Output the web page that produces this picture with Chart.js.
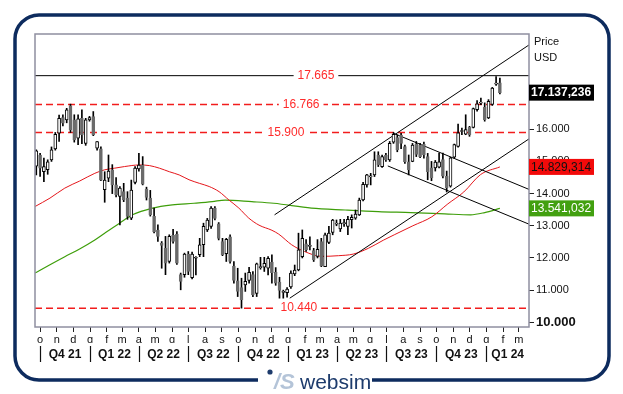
<!DOCTYPE html>
<html>
<head>
<meta charset="utf-8">
<title>Price USD</title>
<script src="https://cdn.jsdelivr.net/npm/chart.js@4.4.1/dist/chart.umd.min.js"></script>
<style>
  body { margin: 0; background: #fff; }
  #wrap { width: 623px; height: 394px; }
</style>
</head>
<body>
<div id="wrap"><canvas id="myChart" width="623" height="394"></canvas></div>
<script>
// weekly candles, first one is the week of 24 Sep 2021
var opens = [14.85,15.20,14.68,14.74,15.05,15.39,15.88,16.36,16.29,16.73,16.29,15.72,16.34,15.56,16.29,16.39,15.41,15.39,14.12,14.48,
  14.74,14.27,13.91,14.06,13.86,13.24,14.35,14.77,14.89,14.14,13.86,13.29,12.87,12.46,12.30,11.89,12.70,12.74,11.48,11.48,
  12.12,11.39,11.99,12.10,12.41,12.87,12.98,13.55,13.06,12.51,12.13,12.66,11.75,11.29,11.08,11.16,11.30,11.48,10.90,11.70,
  11.71,11.68,11.87,11.55,11.25,10.93,10.92,11.10,11.50,11.63,12.04,12.44,12.36,12.23,12.05,12.51,11.73,12.48,12.79,13.05,
  12.90,13.06,12.98,13.19,13.24,13.34,13.80,14.27,14.52,14.58,15.20,14.84,15.20,15.05,15.60,15.74,15.82,15.46,14.99,15.00,
  15.53,15.51,15.53,15.15,14.80,14.80,14.82,15.06,14.54,14.23,15.13,15.47,15.93,15.85,16.06,16.06,16.61,16.81,16.68,16.35,
  16.77,17.40,17.44];
var highs = [15.36,15.25,15.10,15.05,15.45,15.90,16.44,16.45,16.65,16.78,16.45,16.45,16.60,16.34,16.40,16.55,15.62,15.45,14.68,15.20,
  14.90,14.50,14.22,14.32,14.06,14.42,14.84,15.25,15.15,14.20,14.10,13.55,13.03,12.51,12.67,12.72,12.89,12.82,11.53,12.15,
  12.20,12.18,12.04,12.61,13.08,13.23,13.60,13.60,13.10,12.61,12.61,12.72,11.89,11.68,11.37,11.53,11.71,11.58,11.84,12.02,
  12.02,12.04,12.10,11.70,11.40,11.00,11.08,11.60,11.78,12.77,12.87,12.57,12.66,12.30,12.57,12.61,12.77,12.98,13.20,13.18,
  13.20,13.20,13.29,13.34,13.49,13.86,14.35,14.60,14.63,15.30,15.30,15.20,15.25,15.62,15.90,15.82,15.87,15.51,15.20,15.56,
  15.62,15.56,15.60,15.25,15.00,15.03,15.26,15.26,14.70,15.13,15.54,16.16,16.04,16.45,16.09,16.66,16.89,16.97,16.82,16.92,
  17.30,17.64,17.59];
var lows = [14.58,14.53,14.37,14.60,15.00,15.35,15.62,16.10,16.20,15.90,15.60,15.52,15.55,15.50,16.25,15.80,15.35,14.40,13.73,14.37,
  14.00,13.90,13.03,13.75,13.20,13.19,14.30,14.70,14.27,13.80,13.30,12.78,12.51,11.68,11.48,11.84,12.46,11.80,11.01,11.40,
  11.48,11.35,11.47,12.04,12.04,12.82,12.92,13.18,12.56,12.07,11.89,11.84,11.22,10.80,10.44,10.96,11.22,10.80,10.80,11.65,
  11.58,11.47,11.22,11.15,10.75,10.75,10.78,11.05,11.45,11.60,12.00,12.20,12.25,11.89,12.00,11.73,11.73,12.44,12.72,13.00,
  12.82,12.98,12.72,12.93,13.20,13.32,13.77,14.20,14.27,14.53,14.84,14.81,15.00,15.00,15.56,15.30,15.40,14.94,14.58,14.99,
  15.15,15.12,15.10,14.43,14.40,14.70,14.80,14.49,14.05,14.20,15.10,15.44,15.83,15.83,15.78,16.04,16.56,16.76,16.25,16.33,
  16.74,17.36,17.10];
var closes = [15.33,14.79,14.84,14.99,15.36,15.84,16.34,16.19,16.60,15.98,15.67,16.32,15.82,16.29,16.36,15.82,15.62,14.42,14.42,14.70,
  14.27,13.96,14.17,13.80,13.29,14.11,14.79,14.89,14.29,13.88,13.34,12.82,12.67,12.39,11.84,12.67,12.51,11.84,11.27,12.12,
  11.58,12.12,12.00,12.41,12.98,13.18,13.55,13.23,12.61,12.10,12.58,11.89,11.30,10.96,10.70,11.27,11.55,10.85,11.82,11.72,
  11.83,11.99,11.54,11.22,10.99,10.95,11.03,11.53,11.62,12.25,12.61,12.25,12.37,11.94,12.27,11.75,12.72,12.77,13.18,13.07,
  13.08,13.10,13.20,13.26,13.36,13.80,14.29,14.58,14.54,15.05,14.89,15.15,15.05,15.56,15.84,15.36,15.56,14.99,14.74,15.51,
  15.22,15.15,15.20,14.68,14.49,14.98,14.99,14.54,14.18,15.11,15.52,15.89,15.94,15.99,15.83,16.64,16.79,16.82,16.30,16.87,
  17.28,17.41,17.137236];

// moving averages (week index, value)
var redAvgWeeks = [-0.3,3.6,7.5,11.4,15.4,18,20.6,23.2,27.1,29.8,32.4,35,37.6,40.2,42.9,45.5,48.1,50.7,53.3,55.9,58.6,62,63.8,67.2,70.6,75.1,79.5,83.4,87.4,91.3,94.2,99.1,104.1,108.3,112.5,116.9,122];
var redAvg = [13.6,13.86,14.17,14.39,14.63,14.74,14.79,14.84,14.89,14.87,14.79,14.68,14.58,14.43,14.32,14.22,14.06,13.8,13.55,13.24,13.02,12.86,12.74,12.41,12.2,12.05,12.07,12.12,12.3,12.55,12.72,13.0,13.28,13.68,14.05,14.59,14.829314];
var greenAvgWeeks = [-0.3,3.6,7.5,11.4,15.4,18,21.9,25.3,30.6,35.8,41.5,46.3,49.7,56.7,62.5,72.4,81.3,90,98.6,107.5,114.3,118,122];
var greenAvg = [11.53,11.79,12.04,12.28,12.56,12.77,13.08,13.34,13.55,13.65,13.7,13.75,13.8,13.75,13.7,13.55,13.49,13.44,13.41,13.37,13.34,13.41,13.541032];

// trend lines: two end points each
var channelTopWeeks = [62.7, 129.66], channelTopPrices = [13.34, 18.62];
var channelLowWeeks = [66.7, 129.66], channelLowPrices = [10.75, 15.70];
var flagTopWeeks = [93.9, 129.66], flagTopPrices = [15.88, 14.13];
var flagLowWeeks = [92.5, 129.66], flagLowPrices = [14.86, 13.05];

var levels = [17.665, 16.766, 15.900, 10.440];
var yTicks = [10, 11, 12, 13, 14, 15, 16, 17];
var monthLetters = ['g','f','m','a','m','g','l','a','s','o','n','d'];
var quarterLabels = ['Q4 21','Q1 22','Q2 22','Q3 22','Q4 22','Q1 23','Q2 23','Q3 23','Q4 23','Q1 24'];

var xMin = -0.34, xMax = 129.66;
var T0 = Date.UTC(2021, 8, 24), WEEK = 7 * 86400000;
function wk(y, m) { return (Date.UTC(y, m, 1) - T0) / WEEK; }

var monthTicks = [], monthTickLabels = [];
for (var y = 2021, m = 9; y < 2024 || m <= 2; ) {
    monthTicks.push(wk(y, m));
    monthTickLabels.push(monthLetters[m]);
    m++; if (m > 11) { m = 0; y++; }
}
var quarterStarts = [];
for (var q = 0; q < quarterLabels.length; q++) {
    quarterStarts.push(wk(2021 + Math.floor((9 + q * 3) / 12), (9 + q * 3) % 12));
}
var quarterMids = quarterStarts.map(function(s, i) {
    var e = i + 1 < quarterStarts.length ? quarterStarts[i + 1] : xMax;
    return (s + e) / 2;
});

function fmtLast(v) {
    var s = v.toFixed(6);
    return s.slice(0, s.length - 3) + ',' + s.slice(s.length - 3);
}
var FONT = '"Liberation Sans", Arial, sans-serif';
Chart.defaults.font.family = FONT;

function seg(xs, ys) { return xs.map(function(x, i) { return {x: x, y: ys[i]}; }); }

var datasets = [];
// candles on top
datasets.push({
    type: 'bar', label: 'bodies', order: 1, grouped: false,
    data: opens.map(function(o, i) { return {x: i, y: [o, closes[i]]}; }),
    barThickness: 3, minBarLength: 1, borderWidth: 1, borderSkipped: false,
    backgroundColor: function(c) { return closes[c.dataIndex] >= opens[c.dataIndex] ? '#ffffff' : '#6b6b6b'; },
    borderColor: function(c) { return closes[c.dataIndex] >= opens[c.dataIndex] ? '#000000' : '#6b6b6b'; }
});
datasets.push({
    type: 'bar', label: 'wicks', order: 2, grouped: false,
    data: lows.map(function(l, i) { return {x: i, y: [l, highs[i]]}; }),
    barThickness: 1, backgroundColor: '#000'
});
[[channelTopWeeks, channelTopPrices], [channelLowWeeks, channelLowPrices],
 [flagTopWeeks, flagTopPrices], [flagLowWeeks, flagLowPrices]].forEach(function(t) {
    datasets.push({type: 'line', order: 3, data: seg(t[0], t[1]), borderColor: '#000', borderWidth: 1, pointRadius: 0, fill: false});
});
datasets.push({type: 'line', order: 4, data: seg(redAvgWeeks, redAvg), borderColor: '#e5171c', borderWidth: 1,
    pointRadius: 0, cubicInterpolationMode: 'monotone', fill: false});
datasets.push({type: 'line', order: 4, data: seg(greenAvgWeeks, greenAvg), borderColor: '#3e9e0a', borderWidth: 1.2,
    pointRadius: 0, cubicInterpolationMode: 'monotone', fill: false});
levels.forEach(function(lv, i) {
    datasets.push({type: 'line', order: 5, data: [{x: xMin, y: lv}, {x: xMax, y: lv}],
        borderColor: i === 0 ? '#000' : '#f21d1d', borderWidth: i === 0 ? 1 : 1.5,
        borderDash: i === 0 ? [] : [7, 4], pointRadius: 0, fill: false});
});

var decor = {
    id: 'decor',
    beforeDraw: function(chart) {
        var c = chart.ctx;
        c.save();
        c.fillStyle = '#fff';
        c.fillRect(0, 0, chart.width, chart.height);
        c.strokeStyle = '#0d2b5e';
        c.lineWidth = 3.5;
        c.beginPath();
        c.roundRect(15, 15, 594, 365, 24);
        c.stroke();
        // logo gap on the bottom edge
        c.fillStyle = '#fff';
        c.fillRect(258, 372, 114, 16);
        c.fillStyle = '#1d3b6c';
        c.beginPath(); c.arc(270, 372, 2.6, 0, Math.PI * 2); c.fill();
        c.font = 'italic bold 22px ' + FONT;
        c.fillStyle = '#b4c4d8';
        c.textBaseline = 'alphabetic';
        c.fillText('/S', 274, 389);
        c.font = '21px ' + FONT;
        c.fillStyle = '#1d3b6c';
        c.fillText('websim', 300, 389);
        c.restore();
    },
    afterDatasetsDraw: function(chart) {
        var c = chart.ctx, ys = chart.scales.y, xs = chart.scales.x;
        var at = [73.6, 69.7, 65.7, 69.1];
        c.save();
        c.font = '12px ' + FONT;
        c.textAlign = 'center';
        c.textBaseline = 'middle';
        levels.forEach(function(lv, i) {
            var py = ys.getPixelForValue(lv), px = xs.getPixelForValue(at[i]);
            var txt = lv.toFixed(3), w = c.measureText(txt).width;
            c.fillStyle = '#fff';
            c.fillRect(px - w / 2 - 4, py - 6, w + 8, 12);
            c.fillStyle = '#ff2b2b';
            c.fillText(txt, px, py);
        });
        c.restore();
    },
    afterDraw: function(chart) {
        var c = chart.ctx, a = chart.chartArea, ys = chart.scales.y, xs = chart.scales.x;
        c.save();
        c.strokeStyle = '#8f8fa0';
        c.lineWidth = 1.5;
        c.strokeRect(a.left, a.top, a.right - a.left, a.bottom - a.top);
        // quarter separators
        c.strokeStyle = '#111';
        c.lineWidth = 1.2;
        quarterStarts.forEach(function(s) {
            var px = Math.round(xs.getPixelForValue(s)) + 0.5;
            c.beginPath(); c.moveTo(px, 346); c.lineTo(px, 362); c.stroke();
        });
        c.fillStyle = '#111';
        c.font = '11px ' + FONT;
        c.textBaseline = 'middle';
        c.textAlign = 'left';
        c.fillText('Price', a.right + 5, 42);
        c.fillText('USD', a.right + 5, 58);
        // last values
        var boxes = [[closes[closes.length - 1], '#000', '#fff', 'bold '],
                     [redAvg[redAvg.length - 1], '#f20a0a', '#111', ''],
                     [greenAvg[greenAvg.length - 1], '#42a010', '#fff', '']];
        boxes.forEach(function(b) {
            var py = ys.getPixelForValue(b[0]);
            c.fillStyle = b[1];
            c.fillRect(a.right, py - 8, 65, 16);
            c.fillStyle = b[2];
            c.font = b[3] + '12px ' + FONT;
            c.fillText(fmtLast(b[0]), a.right + 2, py + 0.5);
        });
        c.restore();
    }
};

new Chart(document.getElementById('myChart'), {
    type: 'bar',
    data: {datasets: datasets},
    options: {
        responsive: false,
        animation: false,
        events: [],
        layout: {padding: {left: 35, top: 34, right: 14, bottom: 33}},
        plugins: {legend: {display: false}, tooltip: {enabled: false}},
        scales: {
            x: {
                type: 'linear', position: 'bottom', weight: 0, min: xMin, max: xMax, offset: false,
                border: {display: false},
                grid: {drawOnChartArea: false, tickLength: 5, tickColor: '#222', offset: false},
                ticks: {autoSkip: false, maxRotation: 0, padding: 1, color: '#111', font: {size: 11},
                    callback: function(v, i) { return monthTickLabels[i]; }},
                afterBuildTicks: function(s) { s.ticks = monthTicks.map(function(v) { return {value: v}; }); },
                afterFit: function(s) { s.height = 16; }
            },
            xq: {
                type: 'linear', position: 'bottom', weight: 1, min: xMin, max: xMax, offset: false,
                border: {display: false},
                grid: {display: false, drawTicks: false},
                ticks: {autoSkip: false, maxRotation: 0, padding: 4, color: '#111', font: {size: 12, weight: 'bold'},
                    callback: function(v, i) { return quarterLabels[i]; }},
                afterBuildTicks: function(s) { s.ticks = quarterMids.map(function(v) { return {value: v}; }); },
                afterFit: function(s) { s.height = 18; }
            },
            y: {
                type: 'linear', position: 'right', min: 9.854, max: 18.96,
                border: {display: false},
                grid: {drawOnChartArea: false, tickLength: 5, tickColor: '#222'},
                ticks: {padding: 2, color: '#111',
                    font: function(ctx) { return ctx.tick && ctx.tick.value === 10 ? {size: 13, weight: 'bold'} : {size: 11}; },
                    callback: function(v) { return v.toFixed(3); }},
                afterBuildTicks: function(s) { s.ticks = yTicks.map(function(v) { return {value: v}; }); },
                afterFit: function(s) { s.width = 80; }
            }
        }
    },
    plugins: [decor]
});
</script>
</body>
</html>
